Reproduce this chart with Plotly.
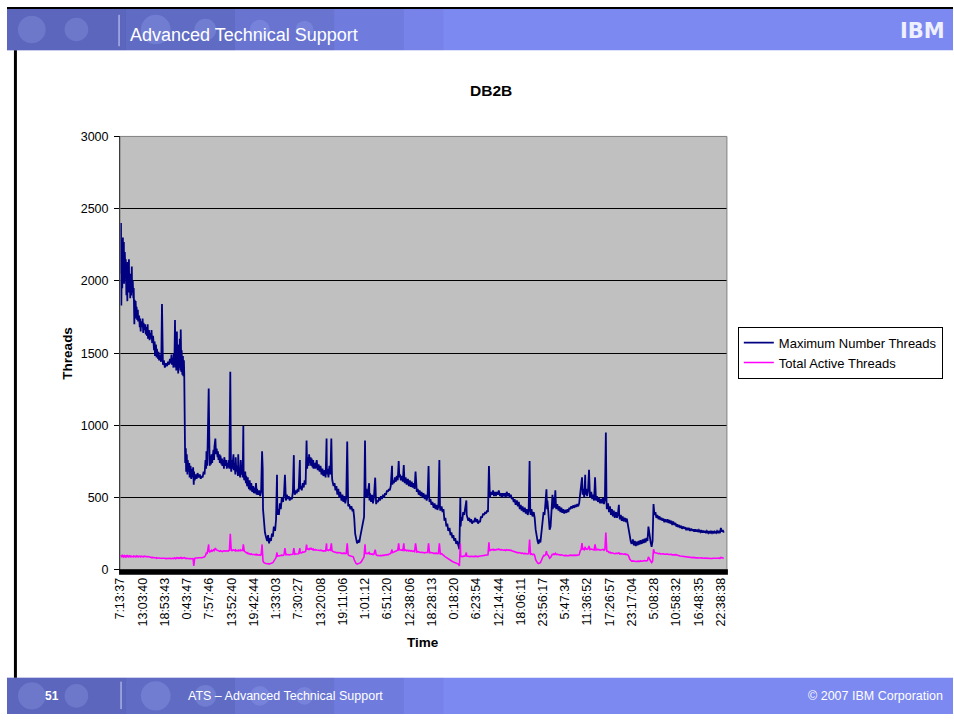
import plotly.graph_objects as go

W, H = 954, 721
FONT = "Liberation Sans, Arial, sans-serif"

tick_labels = ["7:13:37", "13:03:40", "18:53:43", "0:43:47", "7:57:46", "13:52:40", "19:42:44",
               "1:33:03", "7:30:27", "13:20:08", "19:11:06", "1:01:12", "6:51:20", "12:38:06",
               "18:28:13", "0:18:20", "6:23:54", "12:14:44", "18:06:11", "23:56:17", "5:47:34",
               "11:36:52", "17:26:57", "23:17:04", "5:08:28", "10:58:32", "16:48:35", "22:38:38"]
tick_samples = [0, 70, 140, 210, 280, 350, 420, 490, 560, 630, 700, 770, 840, 910, 980, 1050,
                1120, 1190, 1260, 1330, 1400, 1470, 1540, 1610, 1680, 1750, 1820, 1890]

sample_idx = [
    0, 2, 3, 5, 6, 8, 9, 11, 12, 14,
    16, 17, 19, 20, 22, 23, 25, 27, 28, 30,
    31, 33, 34, 36, 37, 39, 41, 42, 44, 45,
    47, 48, 50, 51, 53, 55, 56, 59, 61, 62,
    64, 65, 69, 70, 72, 73, 75, 78, 80, 81,
    84, 86, 87, 90, 92, 94, 97, 98, 100, 103,
    106, 108, 109, 112, 114, 115, 119, 120, 122, 125,
    128, 129, 131, 133, 134, 137, 140, 143, 147, 150,
    153, 156, 159, 161, 162, 165, 167, 168, 170, 172,
    173, 175, 176, 178, 179, 181, 182, 184, 186, 187,
    189, 190, 192, 193, 195, 197, 198, 200, 201, 203,
    204, 206, 207, 209, 211, 212, 215, 217, 218, 221,
    223, 225, 228, 229, 231, 232, 234, 237, 240, 243,
    246, 250, 253, 256, 259, 262, 265, 268, 270, 271,
    273, 274, 278, 279, 281, 284, 285, 287, 289, 290,
    293, 295, 296, 299, 301, 303, 306, 307, 309, 312,
    313, 315, 318, 320, 321, 324, 326, 327, 331, 334,
    335, 337, 340, 342, 343, 346, 348, 349, 351, 352,
    356, 357, 359, 362, 363, 365, 368, 370, 371, 373,
    374, 377, 379, 381, 384, 385, 387, 388, 390, 393,
    395, 396, 399, 401, 402, 405, 407, 409, 412, 415,
    418, 420, 421, 424, 427, 429, 430, 434, 437, 440,
    443, 446, 448, 449, 452, 455, 458, 462, 465, 468,
    471, 474, 477, 480, 483, 487, 490, 493, 494, 496,
    499, 502, 505, 508, 512, 515, 518, 519, 521, 524,
    527, 530, 533, 536, 540, 543, 546, 547, 549, 552,
    555, 558, 561, 565, 566, 568, 571, 574, 577, 580,
    583, 586, 588, 589, 593, 594, 596, 599, 600, 602,
    605, 607, 608, 611, 614, 618, 621, 624, 627, 630,
    633, 636, 639, 643, 646, 649, 650, 652, 655, 658,
    661, 664, 666, 667, 671, 674, 677, 680, 683, 686,
    689, 692, 696, 699, 702, 705, 708, 711, 714, 716,
    717, 720, 724, 727, 730, 733, 736, 739, 742, 745,
    749, 752, 755, 758, 761, 764, 767, 770, 772, 774,
    777, 780, 783, 784, 786, 789, 792, 795, 798, 802,
    803, 805, 808, 811, 814, 817, 820, 823, 827, 830,
    833, 836, 839, 842, 845, 848, 851, 855, 856, 858,
    861, 864, 867, 870, 873, 876, 878, 880, 883, 886,
    889, 892, 894, 895, 898, 901, 905, 908, 911, 914,
    917, 920, 923, 926, 929, 931, 933, 936, 939, 942,
    945, 948, 951, 954, 958, 961, 964, 967, 970, 972,
    973, 976, 979, 982, 986, 989, 992, 995, 998, 1001,
    1004, 1006, 1007, 1011, 1014, 1017, 1020, 1023, 1026, 1029,
    1032, 1036, 1039, 1042, 1045, 1048, 1051, 1054, 1057, 1060,
    1064, 1067, 1070, 1071, 1073, 1076, 1079, 1082, 1085, 1089,
    1090, 1092, 1095, 1098, 1101, 1104, 1107, 1110, 1113, 1117,
    1120, 1123, 1126, 1129, 1132, 1135, 1138, 1142, 1145, 1148,
    1151, 1154, 1157, 1160, 1162, 1163, 1167, 1170, 1173, 1176,
    1179, 1182, 1185, 1188, 1191, 1195, 1198, 1201, 1204, 1207,
    1210, 1213, 1216, 1220, 1223, 1226, 1229, 1232, 1235, 1238,
    1241, 1244, 1248, 1251, 1254, 1257, 1260, 1263, 1266, 1269,
    1273, 1276, 1279, 1282, 1285, 1288, 1290, 1291, 1294, 1297,
    1301, 1304, 1307, 1310, 1313, 1316, 1319, 1322, 1326, 1329,
    1332, 1335, 1338, 1341, 1343, 1344, 1347, 1351, 1354, 1357,
    1360, 1361, 1363, 1366, 1369, 1371, 1372, 1375, 1379, 1382,
    1385, 1388, 1391, 1394, 1397, 1400, 1404, 1407, 1410, 1413,
    1416, 1419, 1422, 1425, 1429, 1432, 1435, 1438, 1441, 1444,
    1447, 1450, 1453, 1455, 1457, 1460, 1463, 1464, 1466, 1469,
    1472, 1475, 1477, 1478, 1482, 1485, 1488, 1491, 1494, 1496,
    1497, 1500, 1503, 1506, 1510, 1513, 1516, 1519, 1522, 1525,
    1528, 1530, 1531, 1535, 1538, 1541, 1544, 1547, 1550, 1553,
    1556, 1560, 1563, 1566, 1569, 1570, 1572, 1575, 1578, 1581,
    1584, 1588, 1591, 1594, 1597, 1600, 1603, 1606, 1609, 1613,
    1616, 1619, 1622, 1625, 1628, 1631, 1634, 1637, 1641, 1644,
    1647, 1650, 1653, 1656, 1659, 1662, 1666, 1669, 1672, 1675,
    1678, 1681, 1684, 1687, 1690, 1694, 1697, 1700, 1703, 1706,
    1709, 1712, 1715, 1719, 1722, 1725, 1728, 1731, 1734, 1737,
    1740, 1744, 1747, 1750, 1753, 1756, 1759, 1762, 1765, 1768,
    1772, 1775, 1778, 1781, 1784, 1787, 1790, 1793, 1797, 1800,
    1803, 1806, 1809, 1812, 1815, 1818, 1821, 1825, 1828, 1831,
    1834, 1837, 1840, 1843, 1846, 1850, 1853, 1856, 1859, 1862,
    1865, 1868, 1871, 1875, 1878, 1881, 1884, 1887, 1890, 1893,
    1896, 1899,
]

max_threads = [
    2050, 2400, 1830, 2250, 1950, 2300, 2000, 2270, 1980, 2200,
    2050, 2150, 1900, 2080, 1860, 2130, 1950, 2150, 1920, 2050,
    1880, 2000, 1900, 2100, 1920, 2000, 1880, 1950, 1700, 1870,
    1780, 1860, 1740, 1820, 1730, 1800, 1720, 1760, 1680, 1740,
    1650, 1720, 1680, 1740, 1640, 1710, 1660, 1700, 1630, 1680,
    1620, 1700, 1600, 1660, 1590, 1640, 1600, 1660, 1570, 1620,
    1520, 1580, 1480, 1560, 1470, 1530, 1460, 1510, 1450, 1490,
    1440, 1480, 1840, 1480, 1420, 1450, 1400, 1430, 1410, 1440,
    1420, 1460, 1430, 1490, 1420, 1470, 1400, 1500, 1420, 1730,
    1400, 1600, 1380, 1650, 1420, 1560, 1360, 1500, 1400, 1600,
    1380, 1663, 1370, 1520, 1350, 1480, 1340, 1450, 1360, 800,
    740, 842, 680, 800, 660, 760, 680, 740, 640, 720,
    630, 700, 640, 710, 590, 680, 620, 660, 630, 670,
    640, 660, 630, 650, 640, 680, 660, 760, 700, 820,
    720, 780, 1256, 760, 720, 790, 730, 800, 740, 770,
    830, 760, 850, 909, 800, 840, 780, 820, 760, 800,
    740, 790, 730, 770, 720, 760, 700, 780, 720, 760,
    700, 740, 710, 760, 700, 1371, 720, 680, 760, 700,
    800, 690, 740, 660, 780, 680, 720, 650, 800, 660,
    700, 640, 760, 660, 700, 640, 998, 660, 620, 680,
    600, 650, 580, 640, 590, 560, 620, 550, 600, 540,
    580, 530, 570, 530, 600, 520, 560, 520, 550, 510,
    540, 821, 700, 420, 300, 260, 230, 200, 240, 183,
    220, 200, 250, 230, 300, 270, 350, 658, 380, 420,
    380, 460, 420, 500, 470, 520, 658, 500, 480, 520,
    490, 510, 480, 500, 490, 540, 794, 560, 520, 550,
    530, 560, 540, 760, 560, 580, 550, 600, 570, 620,
    590, 896, 700, 780, 720, 800, 740, 780, 720, 770,
    710, 760, 700, 740, 700, 760, 690, 730, 680, 720,
    660, 700, 650, 690, 640, 909, 660, 700, 640, 720,
    660, 909, 650, 620, 580, 600, 550, 580, 520, 560,
    500, 540, 480, 520, 470, 510, 460, 500, 889, 460,
    440, 455, 420, 440, 414, 420, 360, 250, 210, 183,
    200, 190, 230, 260, 300, 330, 366, 896, 500, 560,
    500, 540, 600, 480, 530, 470, 520, 460, 500, 638,
    470, 455, 480, 470, 500, 480, 510, 490, 520, 500,
    530, 520, 550, 540, 560, 550, 580, 720, 590, 620,
    600, 640, 610, 650, 620, 753, 640, 660, 620, 650,
    610, 726, 620, 600, 640, 590, 630, 580, 620, 575,
    610, 570, 600, 560, 680, 560, 540, 560, 520, 550,
    510, 540, 500, 530, 490, 520, 480, 510, 719, 500,
    470, 490, 450, 470, 430, 460, 420, 450, 415, 440,
    760, 430, 410, 440, 400, 420, 340, 360, 300, 320,
    270, 290, 240, 260, 220, 240, 200, 220, 180, 200,
    160, 142, 502, 300, 366, 340, 400, 380, 420, 480,
    380, 360, 340, 360, 330, 350, 320, 340, 330, 360,
    330, 350, 320, 340, 330, 370, 360, 390, 380, 400,
    390, 410, 400, 719, 520, 500, 540, 520, 550, 510,
    540, 510, 540, 520, 550, 510, 530, 500, 530, 510,
    530, 500, 540, 510, 530, 500, 520, 490, 500, 470,
    490, 450, 480, 440, 470, 420, 450, 410, 440, 400,
    430, 390, 420, 380, 410, 753, 420, 380, 420, 370,
    400, 360, 280, 220, 200, 180, 210, 190, 260, 346,
    400, 380, 460, 557, 420, 480, 400, 278, 300, 400,
    520, 420, 500, 430, 550, 440, 420, 455, 410, 440,
    400, 430, 395, 420, 390, 415, 395, 420, 400, 430,
    420, 440, 425, 445, 430, 450, 435, 455, 440, 460,
    520, 600, 640, 520, 560, 500, 658, 520, 560, 510,
    550, 692, 520, 500, 540, 490, 520, 480, 640, 500,
    480, 510, 470, 500, 460, 490, 460, 500, 455, 490,
    950, 480, 420, 460, 400, 440, 380, 420, 370, 410,
    360, 400, 360, 390, 450, 380, 350, 380, 340, 370,
    335, 360, 330, 355, 320, 300, 240, 200, 180, 210,
    170, 200, 165, 195, 170, 200, 175, 205, 180, 210,
    185, 215, 190, 220, 200, 299, 220, 190, 160, 200,
    455, 380, 400, 360, 380, 350, 370, 345, 360, 340,
    355, 330, 350, 330, 350, 325, 345, 320, 340, 310,
    335, 310, 325, 300, 315, 295, 310, 290, 305, 285,
    300, 285, 295, 275, 290, 275, 290, 270, 285, 270,
    280, 265, 280, 265, 278, 262, 275, 262, 275, 258,
    272, 258, 270, 255, 268, 255, 268, 252, 265, 255,
    268, 252, 265, 255, 268, 258, 270, 255, 290, 265,
    275, 258,
]

active_threads = [
    95, 100, 88, 92, 100, 95, 90, 96, 92, 98,
    94, 90, 96, 92, 98, 94, 90, 95, 92, 97,
    93, 90, 95, 92, 96, 93, 90, 95, 92, 96,
    93, 90, 95, 92, 96, 93, 90, 95, 92, 94,
    90, 95, 92, 88, 92, 90, 95, 92, 88, 92,
    90, 88, 92, 90, 88, 86, 88, 85, 86, 84,
    86, 83, 84, 82, 84, 80, 82, 80, 82, 80,
    81, 80, 82, 80, 81, 79, 80, 78, 80, 78,
    79, 80, 78, 80, 79, 80, 78, 80, 82, 80,
    78, 82, 80, 84, 80, 82, 80, 84, 80, 82,
    85, 82, 80, 84, 80, 82, 85, 82, 84, 82,
    80, 80, 78, 80, 78, 80, 78, 77, 78, 76,
    78, 77, 78, 76, 27, 78, 80, 82, 80, 82,
    84, 82, 85, 84, 86, 88, 90, 100, 110, 120,
    110, 120, 176, 130, 125, 130, 128, 135, 130, 132,
    138, 134, 140, 150, 140, 138, 134, 136, 132, 130,
    128, 132, 130, 128, 126, 130, 128, 132, 130, 134,
    130, 132, 130, 134, 130, 250, 135, 132, 136, 134,
    138, 134, 136, 132, 138, 134, 136, 132, 140, 134,
    136, 132, 138, 134, 136, 134, 176, 136, 130, 125,
    120, 118, 115, 118, 112, 110, 112, 108, 110, 106,
    108, 104, 106, 104, 108, 104, 106, 102, 104, 100,
    104, 176, 120, 60, 50, 45, 44, 42, 44, 40,
    42, 44, 46, 50, 60, 70, 85, 120, 95, 98,
    96, 100, 98, 102, 100, 104, 150, 106, 104, 106,
    104, 106, 104, 106, 105, 108, 150, 110, 108, 110,
    112, 114, 112, 150, 118, 120, 118, 124, 122, 126,
    128, 175, 140, 145, 140, 150, 144, 148, 140, 146,
    140, 144, 138, 142, 140, 138, 136, 138, 134, 136,
    132, 134, 130, 132, 130, 183, 135, 138, 134, 140,
    136, 183, 134, 130, 126, 124, 120, 122, 118, 120,
    116, 118, 114, 116, 114, 116, 112, 114, 183, 108,
    104, 100, 98, 96, 95, 90, 70, 50, 44, 40,
    42, 44, 48, 55, 65, 80, 90, 176, 110, 115,
    112, 114, 120, 110, 112, 108, 110, 106, 108, 140,
    106, 104, 100, 98, 100, 98, 100, 98, 102, 100,
    104, 102, 106, 104, 108, 110, 114, 140, 118, 122,
    124, 128, 130, 134, 136, 183, 138, 140, 136, 138,
    134, 183, 136, 134, 138, 132, 136, 130, 134, 130,
    133, 128, 130, 126, 183, 128, 124, 126, 122, 124,
    120, 122, 120, 122, 118, 120, 118, 120, 183, 122,
    118, 120, 116, 118, 114, 116, 114, 116, 112, 114,
    183, 114, 110, 112, 108, 100, 95, 90, 85, 80,
    75, 70, 65, 60, 58, 55, 52, 50, 48, 45,
    40, 27, 183, 90, 95, 92, 96, 95, 96, 120,
    95, 94, 92, 94, 92, 94, 92, 94, 92, 95,
    93, 94, 92, 94, 95, 98, 96, 100, 102, 104,
    102, 106, 104, 190, 130, 135, 140, 138, 142, 136,
    140, 138, 142, 140, 144, 138, 140, 136, 138, 136,
    138, 134, 140, 136, 138, 134, 136, 132, 130, 126,
    124, 120, 122, 118, 120, 116, 118, 114, 116, 112,
    114, 110, 112, 110, 112, 210, 112, 108, 110, 106,
    108, 100, 70, 55, 48, 44, 46, 50, 70, 90,
    100, 98, 104, 130, 104, 106, 100, 80, 85, 95,
    110, 104, 110, 106, 115, 108, 106, 108, 104, 106,
    102, 104, 100, 102, 98, 100, 98, 100, 98, 100,
    102, 102, 100, 102, 100, 102, 100, 102, 101, 104,
    130, 140, 185, 140, 145, 140, 160, 142, 146, 142,
    146, 165, 142, 140, 144, 140, 142, 138, 176, 140,
    138, 142, 138, 140, 136, 140, 138, 142, 136, 140,
    258, 138, 130, 128, 120, 122, 116, 118, 114, 116,
    112, 114, 112, 114, 118, 112, 110, 112, 108, 110,
    108, 110, 106, 108, 104, 95, 75, 65, 60, 62,
    58, 60, 58, 60, 58, 60, 58, 62, 60, 62,
    60, 64, 62, 66, 64, 90, 68, 60, 50, 60,
    142, 120, 118, 114, 115, 112, 114, 110, 112, 110,
    111, 108, 110, 108, 110, 106, 108, 105, 107, 104,
    106, 104, 105, 102, 104, 100, 98, 96, 95, 92,
    93, 90, 91, 88, 89, 87, 88, 86, 87, 85,
    86, 84, 85, 83, 84, 82, 83, 82, 83, 81,
    82, 80, 81, 80, 81, 79, 80, 79, 80, 79,
    80, 79, 80, 79, 80, 80, 81, 80, 86, 81,
    82, 80,
]

assert len(sample_idx) == len(max_threads) == len(active_threads), (
    len(sample_idx), len(max_threads), len(active_threads))


def px(x):
    return x / W


def py(y):
    return 1 - y / H


fig = go.Figure()
fig.add_trace(go.Scatter(x=sample_idx, y=max_threads, mode="lines",
                         name="Maximum Number Threads",
                         line=dict(color="#000080", width=1.8)))
fig.add_trace(go.Scatter(x=sample_idx, y=active_threads, mode="lines",
                         name="Total Active Threads",
                         line=dict(color="#FF00FF", width=1.6)))

HEADER = "#7C89F0"
shapes = []
# slide header & footer bars
for (y0, y1) in [(2, 44), (684, 721)]:
    shapes.append(dict(type="rect", xref="paper", yref="paper", x0=0, x1=1,
                       y0=py(y1), y1=py(y0), fillcolor=HEADER, line=dict(width=0),
                       layer="below"))
    for (a, b, op) in [(0, 120, 0.5), (120, 230, 0.42), (230, 330, 0.3), (330, 400, 0.18), (400, 440, 0.08)]:
        shapes.append(dict(type="rect", xref="paper", yref="paper", x0=px(a), x1=px(b),
                           y0=py(y1), y1=py(y0), fillcolor="#3a4488", opacity=op,
                           line=dict(width=0), layer="below"))
    for (cx, r) in [(25, 14), (70, 12), (150, 15), (200, 11), (255, 10), (300, 9)]:
        cy = (y0 + y1) / 2
        shapes.append(dict(type="circle", xref="paper", yref="paper",
                           x0=px(cx - r), x1=px(cx + r), y0=py(cy + r), y1=py(cy - r),
                           fillcolor="#A4AEF8", opacity=0.25, line=dict(width=0), layer="below"))
# dividers in bars
shapes.append(dict(type="line", xref="paper", yref="paper", x0=px(113), x1=px(113),
                   y0=py(40), y1=py(8), line=dict(color="#D0D4FF", width=1)))
shapes.append(dict(type="line", xref="paper", yref="paper", x0=px(115), x1=px(115),
                   y0=py(716), y1=py(688), line=dict(color="#D0D4FF", width=1)))
# slide border
shapes.append(dict(type="rect", xref="paper", yref="paper", x0=0, x1=1, y0=py(2), y1=1,
                   fillcolor="black", line=dict(width=0)))
shapes.append(dict(type="rect", xref="paper", yref="paper", x0=px(7), x1=px(10), y0=py(684), y1=py(44),
                   fillcolor="black", line=dict(width=0)))
# plot frame
shapes.append(dict(type="rect", xref="paper", yref="paper", x0=px(114), x1=px(726),
                   y0=py(574), y1=py(132), line=dict(color="#808080", width=1)))
# dense category tick band under the x axis
shapes.append(dict(type="rect", xref="paper", yref="paper", x0=px(113), x1=px(727),
                   y0=py(579), y1=py(573.5), fillcolor="black", line=dict(width=0)))
# IBM logo stripes
shapes_logo = []
for yy in [14, 18, 22, 26, 30, 34]:
    shapes_logo.append(dict(type="line", xref="paper", yref="paper", x0=px(896), x1=px(950),
                            y0=py(yy), y1=py(yy), line=dict(color=HEADER, width=1.2)))

annotations = [
    dict(text="<b>DB2B</b>", x=px(488), y=py(85), xref="paper", yref="paper", showarrow=False,
         font=dict(size=15.5, family=FONT, color="black"), xanchor="center", yanchor="middle"),
    dict(text="<b>Threads</b>", x=px(61), y=py(353), xref="paper", yref="paper", showarrow=False,
         textangle=-90, font=dict(size=13.5, family=FONT, color="black"), xanchor="center", yanchor="middle"),
    dict(text="<b>Time</b>", x=px(420), y=py(648), xref="paper", yref="paper", showarrow=False,
         font=dict(size=13.5, family=FONT, color="black"), xanchor="center", yanchor="middle"),
    dict(text="Advanced Technical Support", x=px(122), y=py(29), xref="paper", yref="paper",
         showarrow=False, font=dict(size=18, family=FONT, color="white"), xanchor="left", yanchor="middle"),
    dict(text="<b>51</b>", x=px(36), y=py(703), xref="paper", yref="paper",
         showarrow=False, font=dict(size=12, family=FONT, color="white"), xanchor="left", yanchor="middle"),
    dict(text="ATS – Advanced Technical Support", x=px(181), y=py(703), xref="paper", yref="paper",
         showarrow=False, font=dict(size=12.5, family=FONT, color="white"), xanchor="left", yanchor="middle"),
    dict(text="© 2007 IBM Corporation", x=px(946), y=py(703), xref="paper", yref="paper",
         showarrow=False, font=dict(size=12.5, family=FONT, color="white"), xanchor="right", yanchor="middle"),
    dict(text="<b>IBM</b>", x=px(923), y=py(24), xref="paper", yref="paper",
         showarrow=False, font=dict(size=21, family="DejaVu Sans, sans-serif", color="#EEF0FF"),
         xanchor="center", yanchor="middle"),
]

fig.update_layout(
    width=W, height=H,
    margin=dict(l=0, r=0, t=0, b=0),
    paper_bgcolor="white",
    plot_bgcolor="#C0C0C0",
    font=dict(family=FONT, color="black", size=12.5),
    xaxis=dict(domain=[px(114), px(726)], range=[-1, 1909], tickmode="array",
               tickvals=tick_samples, ticktext=tick_labels, tickangle=-90,
               ticks="outside", ticklen=2, tickcolor="black",
               showgrid=False, zeroline=False, showline=False,
               tickfont=dict(size=12.5, family=FONT, color="black")),
    yaxis=dict(domain=[py(574), py(132)], range=[0, 3000], tick0=0, dtick=500,
               ticks="outside", ticklen=5, tickcolor="black", ticklabelstandoff=3,
               showgrid=True, gridcolor="#000000", gridwidth=1, zeroline=False,
               showline=True, linecolor="black", linewidth=1,
               tickfont=dict(size=12.5, family=FONT, color="black")),
    showlegend=True,
    legend=dict(x=px(737), y=py(352.5), xanchor="left", yanchor="middle", bgcolor="white",
                bordercolor="black", borderwidth=1, font=dict(size=13, family=FONT, color="black"),
                itemwidth=30, tracegroupgap=0),
    shapes=shapes + shapes_logo,
    annotations=annotations,
)

fig.write_html("out.html",
               config={"displayModeBar": False},
               post_script="document.body.style.margin='0';document.body.style.overflow='hidden';")
